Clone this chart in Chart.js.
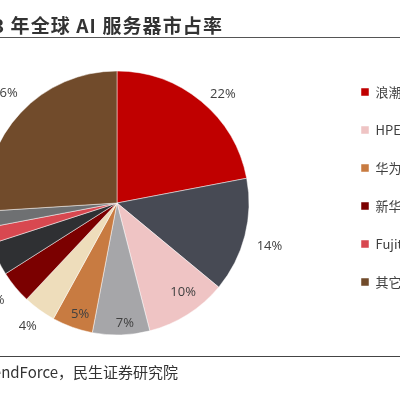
<!DOCTYPE html>
<html>
<head>
<meta charset="utf-8">
<script src="https://cdn.jsdelivr.net/npm/chart.js@4/dist/chart.umd.min.js"></script>
<style>
  html, body { margin:0; padding:0; width:400px; height:400px; overflow:hidden; background:#fff; }
  #wrap { position:absolute; left:-102px; top:0; width:588px; height:400px; }
  #title { position:absolute; right:177px; top:14px; white-space:nowrap; font:bold 19px "Noto Sans CJK SC", sans-serif; letter-spacing:1.1px; line-height:22px; color:#333; }
  #tline { position:absolute; left:0; top:37px; width:400px; height:0; border-top:1.5px solid #555; }
  #bline { position:absolute; left:0; top:356px; width:400px; height:0; border-top:1px solid #444; }
  #source { position:absolute; right:222px; top:362px; white-space:nowrap; font:15px "Noto Sans CJK SC", sans-serif; line-height:20px; color:#333; }
</style>
</head>
<body>
<div id="wrap"><canvas id="c" width="588" height="400"></canvas></div>
<div id="title">图：2023 年全球 AI 服务器市占率</div>
<div id="tline"></div>
<div id="bline"></div>
<div id="source">资料来源：TrendForce，民生证券研究院</div>
<script>
// ---- data ----
const categories = ["浪潮信息", "戴尔", "HPE", "联想", "华为", "超聚变", "新华三", "宁畅", "Fujitsu", "思科", "其它"];
const shares = [22, 14, 10, 7, 5, 4, 4, 4, 2, 2, 26];
const colors = ["#C00000", "#474A54", "#EFC4C4", "#A6A6A9", "#C87B41", "#EEDDBB", "#7B0000", "#2F3033", "#D84850", "#6E7072", "#714B2B"];
// ---- layout helpers (not data) ----
const legendOrder = [0, 2, 4, 6, 8, 10, 1, 3, 5, 7, 9];
const labelRadiusFactor = [1.15, 1.20, 0.84, 0.91, 0.89, 1.15, 1.18, 1.18, 1.18, 1.18, 1.19];
const labelAngleShift = [4.6, 1.3, -4.2, -2, -1.5, 0, 0.9, 0, 0, 0, 1.3];

const pctLabels = {
  id: 'pctLabels',
  afterDatasetsDraw(chart) {
    const meta = chart.getDatasetMeta(0);
    const ctx = chart.ctx;
    ctx.save();
    ctx.font = '13px "Open Sans", "Noto Sans", sans-serif';
    ctx.fillStyle = '#404040';
    ctx.textAlign = 'center';
    ctx.textBaseline = 'middle';
    meta.data.forEach((arc, i) => {
      const p = arc.getProps(['x', 'y', 'startAngle', 'endAngle', 'outerRadius'], true);
      const mid = (p.startAngle + p.endAngle) / 2 + labelAngleShift[i] * Math.PI / 180;
      const r = p.outerRadius * labelRadiusFactor[i];
      ctx.fillText(shares[i] + '%', p.x + Math.cos(mid) * r, p.y + Math.sin(mid) * r);
    });
    ctx.restore();
  }
};

new Chart(document.getElementById('c'), {
  type: 'pie',
  data: {
    labels: categories,
    datasets: [{
      data: shares,
      backgroundColor: colors,
      borderColor: 'rgba(255,255,255,0.6)',
      borderWidth: 0.8,
      radius: 132
    }]
  },
  options: {
    responsive: false,
    animation: false,
    events: [],
    layout: { padding: { left: 0, right: 0, top: 60.5, bottom: 54.5 } },
    plugins: {
      tooltip: { enabled: false },
      legend: {
        position: 'right',
        align: 'start',
        maxWidth: 150,
        labels: {
          boxWidth: 8,
          boxHeight: 8,
          padding: 25,
          color: '#404040',
          font: { size: 13, family: '"Noto Sans CJK SC", "Noto Sans", sans-serif' },
          generateLabels(chart) {
            const items = Chart.overrides.pie.plugins.legend.labels.generateLabels(chart);
            return legendOrder.map(i => items[i]);
          }
        }
      }
    }
  },
  plugins: [pctLabels]
});
</script>
</body>
</html>
